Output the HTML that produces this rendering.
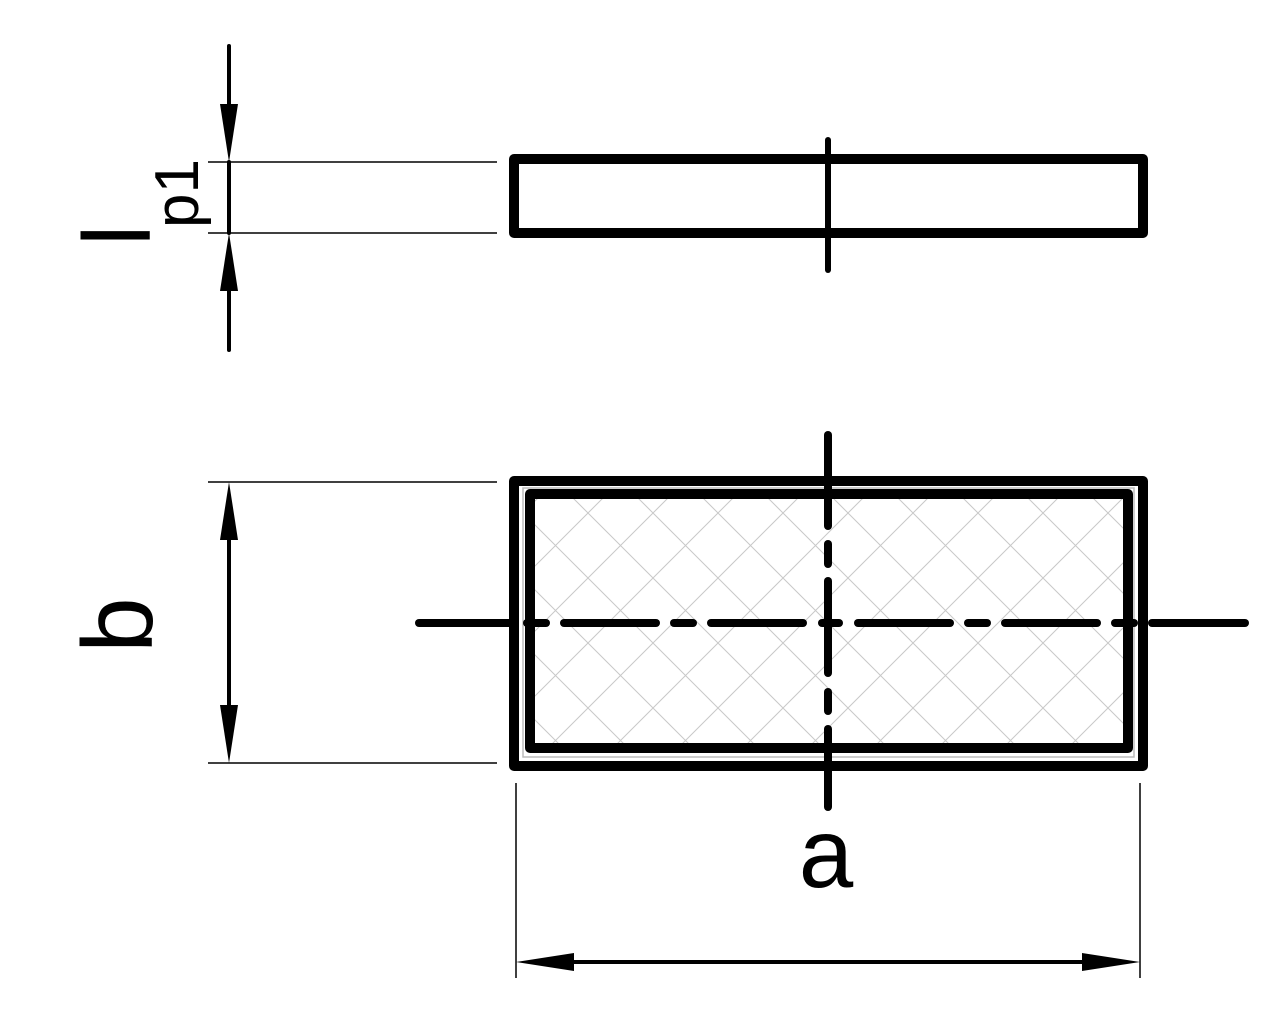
<!DOCTYPE html>
<html><head><meta charset="utf-8"><style>html,body{margin:0;padding:0;background:#fff}svg{display:block}</style></head>
<body>
<svg width="1280" height="1024" viewBox="0 0 1280 1024" xmlns="http://www.w3.org/2000/svg">
<defs>
<pattern id="h" patternUnits="userSpaceOnUse" width="65" height="65" x="35.5" y="25.5">
<path d="M0 0L65 65M0 65L65 0M-5 5L5 -5M60 70L70 60" stroke="#c8c8c8" stroke-width="1" fill="none"/>
</pattern>
</defs>
<rect x="514" y="159" width="629" height="74" fill="none" stroke="#000" stroke-width="10" stroke-linejoin="round"/>
<line x1="828" y1="140" x2="828" y2="270" stroke="#000" stroke-width="6" stroke-linecap="round"/>
<g stroke="#000" stroke-width="1.5">
<line x1="208" y1="162" x2="497" y2="162"/>
<line x1="208" y1="233" x2="497" y2="233"/>
<line x1="208" y1="482" x2="497" y2="482"/>
<line x1="208" y1="763" x2="497" y2="763"/>
<line x1="516" y1="783" x2="516" y2="978"/>
<line x1="1140" y1="783" x2="1140" y2="978"/>
</g>
<g stroke="#000" stroke-width="4" stroke-linecap="round">
<line x1="229" y1="46" x2="229" y2="140"/>
<line x1="229" y1="162" x2="229" y2="233"/>
<line x1="229" y1="260" x2="229" y2="350"/>
<line x1="229" y1="520" x2="229" y2="730"/>
<line x1="550" y1="962" x2="1110" y2="962"/>
</g>
<g fill="#000">
<polygon points="220,104 238,104 229,162"/>
<polygon points="220,291 238,291 229,233"/>
<polygon points="220,540 238,540 229,482"/>
<polygon points="220,705 238,705 229,763"/>
<polygon points="574,953 574,971 516,962"/>
<polygon points="1082,953 1082,971 1140,962"/>
</g>
<rect x="530" y="494" width="598" height="254" fill="url(#h)"/>
<rect x="523" y="488" width="611" height="269" fill="none" stroke="#bbb" stroke-width="1.5"/>
<rect x="514" y="481" width="629" height="285" fill="none" stroke="#000" stroke-width="10" stroke-linejoin="round"/>
<rect x="530" y="494" width="598" height="254" fill="none" stroke="#000" stroke-width="10" stroke-linejoin="round"/>
<g stroke="#000" stroke-width="8" stroke-linecap="round">
<line x1="419" y1="623" x2="509" y2="623"/>
<line x1="527" y1="623" x2="546" y2="623"/>
<line x1="564" y1="623" x2="656" y2="623"/>
<line x1="674" y1="623" x2="693" y2="623"/>
<line x1="711" y1="623" x2="803" y2="623"/>
<line x1="822" y1="623" x2="839" y2="623"/>
<line x1="858" y1="623" x2="950" y2="623"/>
<line x1="968" y1="623" x2="987" y2="623"/>
<line x1="1005" y1="623" x2="1097" y2="623"/>
<line x1="1115" y1="623" x2="1134" y2="623"/>
<line x1="1152" y1="623" x2="1245" y2="623"/>
<line x1="828" y1="435" x2="828" y2="526"/>
<line x1="828" y1="544" x2="828" y2="564"/>
<line x1="828" y1="581" x2="828" y2="673"/>
<line x1="828" y1="692" x2="828" y2="711"/>
<line x1="828" y1="729" x2="828" y2="807"/>
</g>
<g font-family="'Liberation Sans', 'DejaVu Sans', sans-serif" fill="#000">
<text x="826" y="887" font-size="98" text-anchor="middle">a</text>
<text transform="translate(152,625) rotate(-90)" font-size="100" text-anchor="middle">b</text>
<text transform="translate(150,246) rotate(-90)" font-size="96">l</text>
<text transform="translate(198,228) rotate(-90)" font-size="62">p1</text>
</g>
</svg>
</body></html>
